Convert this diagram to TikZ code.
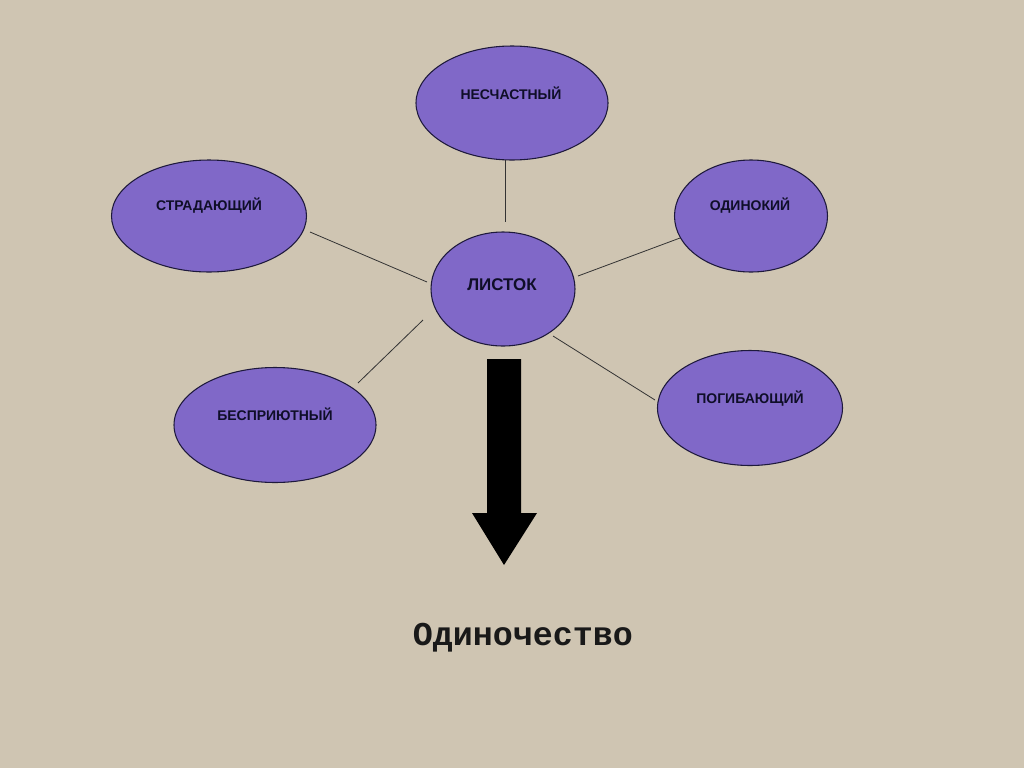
\documentclass[tikz,border=0pt]{standalone}
\usepackage{fontspec}
\setmainfont{Liberation Sans}
\newfontfamily\monofont{Liberation Mono}
\usetikzlibrary{shapes.geometric}
\definecolor{bg}{RGB}{207,197,178}
\definecolor{petal}{RGB}{128,104,200}
\definecolor{rim}{RGB}{30,25,60}
\definecolor{ink}{RGB}{15,14,40}
\begin{document}
\begin{tikzpicture}[x=0.75pt,y=-0.75pt,
  petalshape/.style={ellipse,draw=rim,line width=0.8pt,fill=petal,inner sep=0pt},
  word/.style={font=\bfseries\fontsize{10.5}{12}\selectfont,text=ink,inner sep=0pt},
  link/.style={draw=black!80,line width=0.6pt}]
\fill[bg] (0,0) rectangle (1024,768);
\useasboundingbox (0,0) rectangle (1024,768);
% ellipses
\node[petalshape,minimum width=144pt,minimum height=85.5pt] (n) at (512,103) {};
\node[petalshape,minimum width=146.25pt,minimum height=84pt] (s) at (209,216) {};
\node[petalshape,minimum width=114.75pt,minimum height=84pt] (o) at (751,216) {};
\node[petalshape,minimum width=108pt,minimum height=85.5pt] (l) at (503,289) {};
\node[petalshape,minimum width=151.5pt,minimum height=86.25pt] (b) at (275,425) {};
\node[petalshape,minimum width=138.75pt,minimum height=86.25pt] (p) at (750,408) {};
% labels
\node[word] (nt) at (511,93) {НЕСЧАСТНЫЙ};
\node[word] (st) at (209,206) {СТРАДАЮЩИЙ};
\node[word] (ot) at (750,206) {ОДИНОКИЙ};
\node[word,font=\bfseries\fontsize{12.7}{14}\selectfont] (lt) at (502,285) {ЛИСТОК};
\node[word] (bt) at (275,414) {БЕСПРИЮТНЫЙ};
\node[word] (pt) at (750,399) {ПОГИБАЮЩИЙ};
% connector end points
\coordinate (n1) at (505,160); \coordinate (l1) at (505,222);
\coordinate (s1) at (310,232); \coordinate (l2) at (427,282);
\coordinate (o1) at (680,238); \coordinate (l3) at (578,276);
\coordinate (b1) at (358,383); \coordinate (l4) at (423,320);
\coordinate (p1) at (655,400); \coordinate (l5) at (553,336);
\draw[link] (n1) -- (l1);
\draw[link] (s1) -- (l2);
\draw[link] (o1) -- (l3);
\draw[link] (b1) -- (l4);
\draw[link] (p1) -- (l5);
% big arrow
\fill[black] (487,359) -- (521,359) -- (521,513) -- (537,513) -- (504,565) -- (472,513) -- (487,513) -- cycle;
% result
\node[font=\monofont\bfseries\fontsize{25}{28}\selectfont,text=black!90,inner sep=0pt] (res) at (523,638) {Одиночество};
\end{tikzpicture}
\end{document}
